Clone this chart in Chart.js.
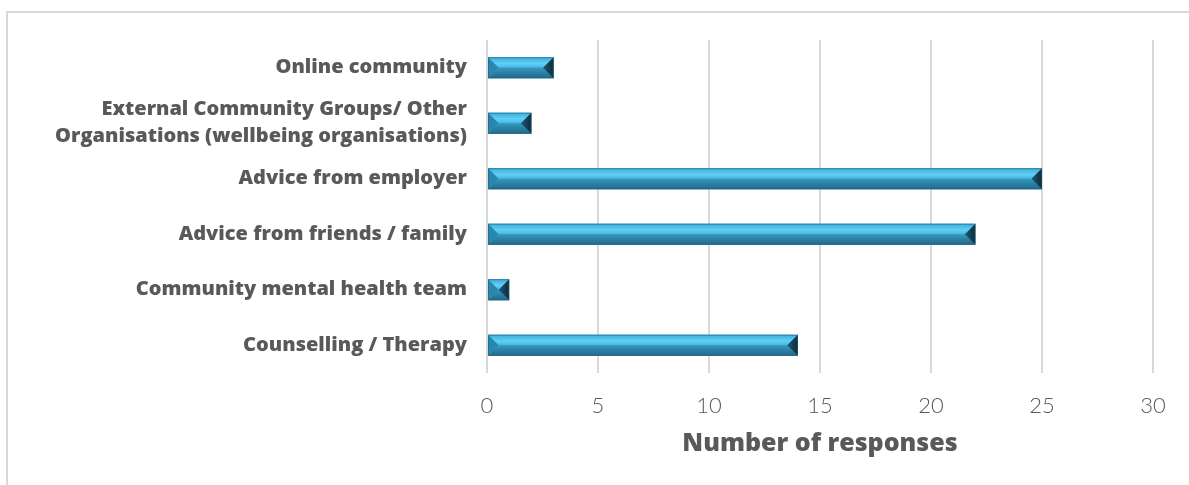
<!DOCTYPE html>
<html lang="en">
<head>
  <meta charset="UTF-8">
  <title>Number of responses</title>
  <script src="https://cdn.jsdelivr.net/npm/chart.js"></script>
  <style>
    html, body { margin: 0; padding: 0; background: #fff; }
    body { width: 1189px; height: 485px; position: relative; overflow: hidden; }
    #wrap { position: absolute; left: 0; top: 0; width: 1189px; height: 485px; }
    .frame {
      position: absolute; left: 6px; top: 11px; width: 1300px; height: 600px;
      border-left: 2px solid #d9d9d9; border-top: 2px solid #d9d9d9;
      pointer-events: none;
    }
  </style>
</head>
<body>
  <div id="wrap"><canvas id="chart" width="1189" height="485"></canvas></div>
  <div class="frame"></div>

  <script>
    const categories = [
      'Online community',
      ['External Community Groups/ Other', 'Organisations (wellbeing organisations)'],
      'Advice from employer',
      'Advice from friends / family',
      'Community mental health team',
      'Counselling / Therapy'
    ];
    const responses = [3, 2, 25, 22, 1, 14];
    const xTicks = [0, 5, 10, 15, 20, 25, 30];
    const axisTitle = 'Number of responses';

    // bevelled look for the bars: four faces around a flat top
    const bevelBars = {
      id: 'bevelBars',
      afterDatasetsDraw(chart) {
        const ctx = chart.ctx;
        chart.getDatasetMeta(0).data.forEach(bar => {
          const x0 = Math.min(bar.base, bar.x), x1 = Math.max(bar.base, bar.x);
          const y0 = bar.y - bar.height / 2, y1 = bar.y + bar.height / 2;
          const w = x1 - x0, h = y1 - y0;
          const d = Math.min(h / 2, w / 2);
          const ym = bar.y;
          ctx.save();

          // top face
          let g = ctx.createLinearGradient(0, y0, 0, ym);
          g.addColorStop(0, '#3aaedc');
          g.addColorStop(0.6, '#62cff5');
          g.addColorStop(1, '#46b6e2');
          ctx.fillStyle = g;
          ctx.beginPath();
          ctx.moveTo(x0, y0); ctx.lineTo(x1, y0); ctx.lineTo(x1 - d, ym); ctx.lineTo(x0 + d, ym);
          ctx.closePath(); ctx.fill();

          // bottom face
          g = ctx.createLinearGradient(0, ym, 0, y1);
          g.addColorStop(0, '#3599c2');
          g.addColorStop(0.5, '#2b7fa3');
          g.addColorStop(1, '#276985');
          ctx.fillStyle = g;
          ctx.beginPath();
          ctx.moveTo(x0 + d, ym); ctx.lineTo(x1 - d, ym); ctx.lineTo(x1, y1); ctx.lineTo(x0, y1);
          ctx.closePath(); ctx.fill();

          // left end
          ctx.fillStyle = '#2887af';
          ctx.beginPath();
          ctx.moveTo(x0, y0); ctx.lineTo(x0 + d, ym); ctx.lineTo(x0, y1);
          ctx.closePath(); ctx.fill();

          // right end
          g = ctx.createLinearGradient(x1 - d, 0, x1, 0);
          g.addColorStop(0, '#1d5a75');
          g.addColorStop(1, '#0e2b39');
          ctx.fillStyle = g;
          ctx.beginPath();
          ctx.moveTo(x1, y0); ctx.lineTo(x1 - d, ym); ctx.lineTo(x1, y1);
          ctx.closePath(); ctx.fill();

          // thin outline
          ctx.strokeStyle = 'rgba(30,90,120,0.55)';
          ctx.lineWidth = 1;
          ctx.strokeRect(x0 + 0.5, y0 + 0.5, w - 1, h - 1);
          ctx.restore();
        });
      }
    };

    new Chart(document.getElementById('chart'), {
      type: 'bar',
      data: {
        labels: categories,
        datasets: [{
          data: responses,
          backgroundColor: '#3aa9d6',
          borderWidth: 0,
          barPercentage: 0.38,
          categoryPercentage: 1
        }]
      },
      options: {
        indexAxis: 'y',
        responsive: false,
        animation: false,
        layout: { padding: { left: 0, right: 36, top: 40, bottom: 26 } },
        plugins: {
          legend: { display: false },
          tooltip: { enabled: false }
        },
        scales: {
          x: {
            min: 0,
            max: 30,
            afterBuildTicks: scale => { scale.ticks = xTicks.map(v => ({ value: v })); },
            afterFit: scale => { scale.height = 86; },
            grid: { color: '#d9d9d9', lineWidth: 2, drawTicks: false },
            border: { display: false },
            ticks: {
              padding: 20,
              color: '#595959',
              font: { family: 'Lato', size: 22, weight: '300' }
            },
            title: {
              display: true,
              text: axisTitle,
              color: '#595959',
              font: { family: 'Open Sans', size: 25, weight: '800' },
              padding: 0
            }
          },
          y: {
            afterFit: scale => { scale.width = 487; },
            grid: { display: false, drawTicks: false },
            border: { display: false },
            ticks: {
              autoSkip: false,
              padding: 20,
              color: '#595959',
              font: { family: 'Open Sans', size: 20, weight: '800', lineHeight: 1.35 }
            }
          }
        }
      },
      plugins: [bevelBars]
    });
  </script>
</body>
</html>
